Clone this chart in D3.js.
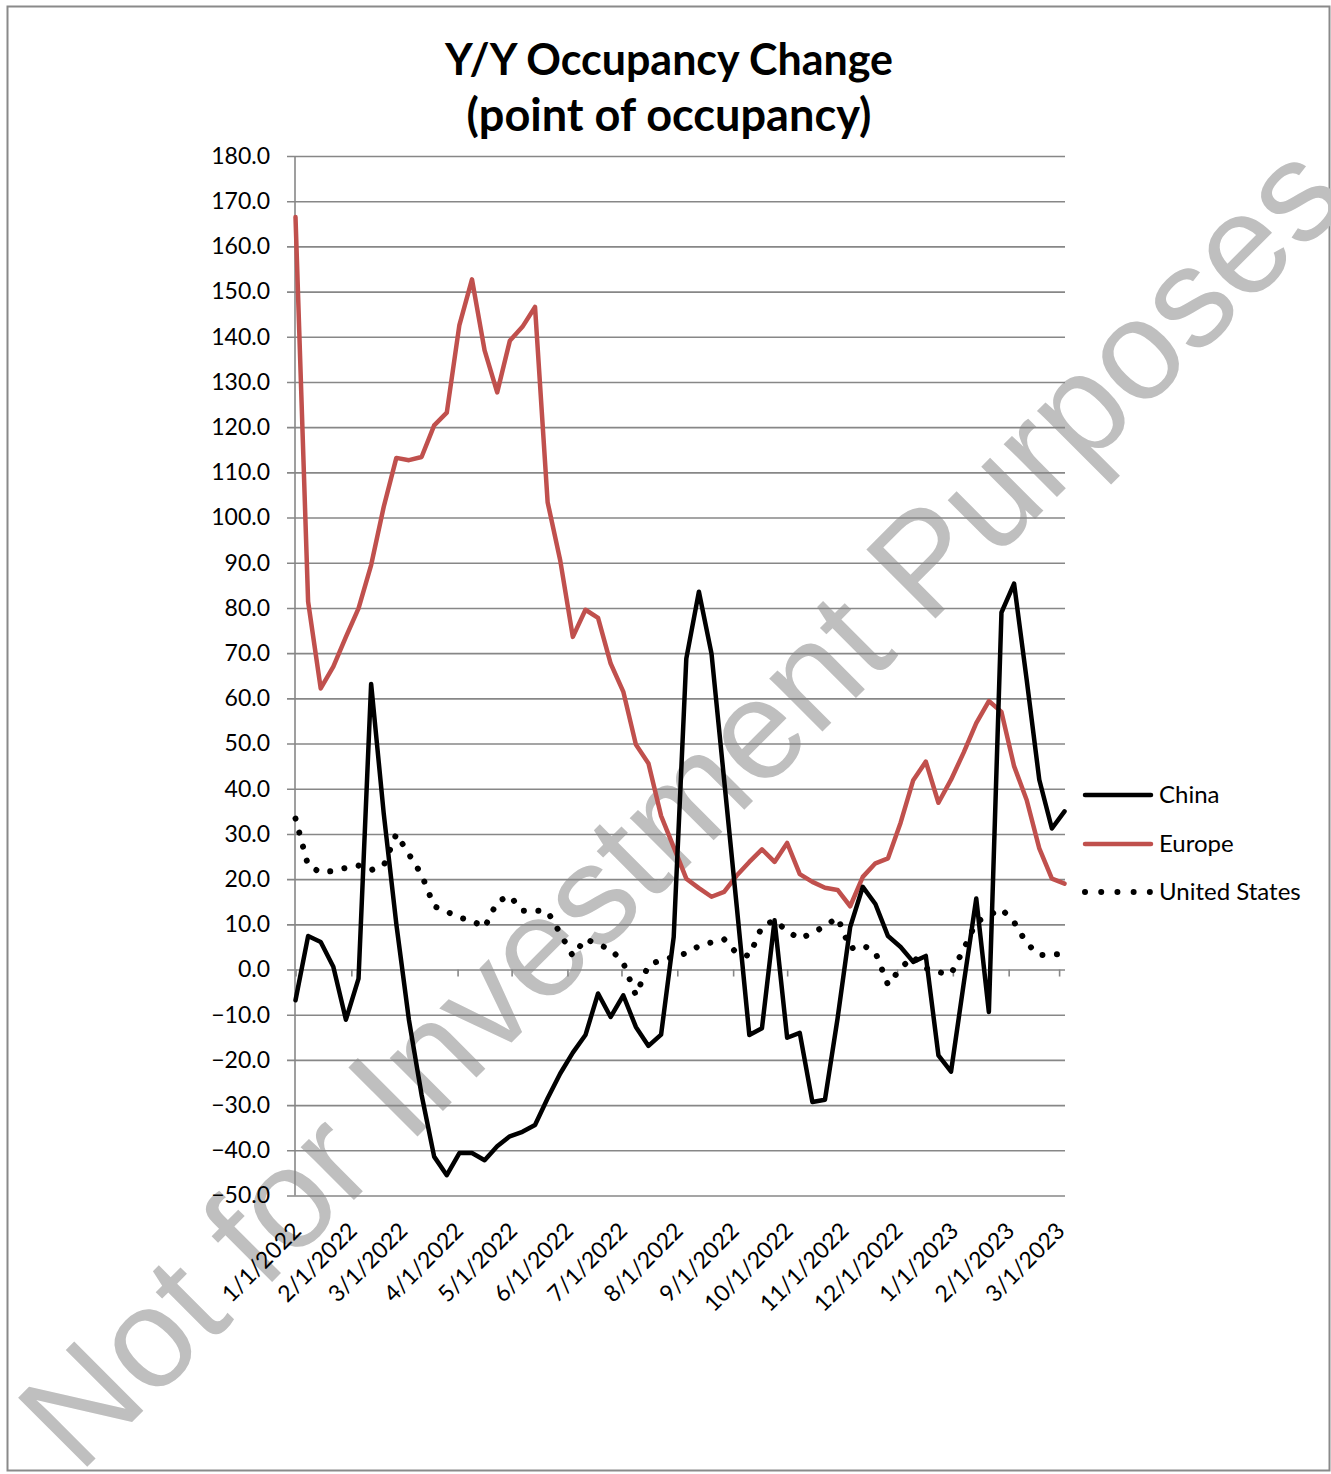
<!DOCTYPE html>
<html>
<head>
<meta charset="utf-8">
<script src="https://cdn.jsdelivr.net/npm/d3@7"></script>
<style>
  html, body { margin: 0; padding: 0; background: #fff; }
  svg { display: block; }
</style>
</head>
<body>
<div id="chart"></div>
<script>
// ---------------- DATA ----------------
const weekDates = [
  "2022-01-01","2022-01-08","2022-01-15","2022-01-22","2022-01-29",
  "2022-02-05","2022-02-12","2022-02-19","2022-02-26",
  "2022-03-05","2022-03-12","2022-03-19","2022-03-26",
  "2022-04-02","2022-04-09","2022-04-16","2022-04-23","2022-04-30",
  "2022-05-07","2022-05-14","2022-05-21","2022-05-28",
  "2022-06-04","2022-06-11","2022-06-18","2022-06-25",
  "2022-07-02","2022-07-09","2022-07-16","2022-07-23","2022-07-30",
  "2022-08-06","2022-08-13","2022-08-20","2022-08-27",
  "2022-09-03","2022-09-10","2022-09-17","2022-09-24",
  "2022-10-01","2022-10-08","2022-10-15","2022-10-22","2022-10-29",
  "2022-11-05","2022-11-12","2022-11-19","2022-11-26",
  "2022-12-03","2022-12-10","2022-12-17","2022-12-24","2022-12-31",
  "2023-01-07","2023-01-14","2023-01-21","2023-01-28",
  "2023-02-04","2023-02-11","2023-02-18","2023-02-25",
  "2023-03-04"
];

const china = [
  -6.8, 7.4, 6.1, 0.6, -11.1, -2.0, 63.2, 34.5, 10.0, -11.2,
  -27.7, -41.4, -45.5, -40.6, -40.6, -42.2, -39.1, -36.9, -35.9, -34.4,
  -28.5, -23.0, -18.4, -14.5, -5.3, -10.5, -5.7, -12.7, -16.9, -14.4,
  7.2, 68.8, 83.6, 69.9, 42.0, 14.0, -14.5, -13.0, 10.9, -15.1,
  -14.0, -29.3, -28.8, -10.8, 9.4, 18.3, 14.5, 7.4, 5.0, 1.7,
  3.0, -19.0, -22.6, -3.2, 15.7, -9.4, 79.0, 85.4, 64.1, 42.0,
  31.2, 35.0
];

const europe = [
  166.5, 81.4, 62.2, 67.0, 73.6, 79.9, 89.5, 102.4, 113.2, 112.7,
  113.4, 120.4, 123.2, 142.6, 152.7, 137.0, 127.7, 139.1, 142.2, 146.6,
  103.4, 90.5, 73.6, 79.6, 77.8, 67.7, 61.5, 49.8, 45.6, 34.0,
  27.1, 20.1, 18.0, 16.1, 17.2, 20.8, 23.8, 26.6, 23.8, 28.0,
  21.1, 19.4, 18.1, 17.6, 14.0, 20.5, 23.5, 24.6, 32.5, 41.9,
  46.0, 36.9, 42.0, 48.0, 54.5, 59.4, 57.0, 45.0, 37.5, 26.8,
  20.1, 19.0
];

const unitedStates = [
  33.4, 23.0, 21.5, 21.8, 22.5, 23.0, 22.0, 23.0, 30.0, 25.5,
  21.0, 14.0, 12.8, 11.5, 10.8, 9.3, 15.0, 16.3, 13.0, 13.1,
  12.8, 8.0, 3.0, 6.8, 5.5, 4.5, 1.5, -5.7, 1.0, 2.1,
  2.8, 3.6, 5.2, 6.0, 6.7, 3.6, 3.0, 9.5, 10.9, 8.5,
  6.8, 8.1, 9.6, 11.5, 4.6, 5.4, 3.8, -3.4, 0.3, 2.8,
  0.3, -0.6, -1.0, 4.5, 10.5, 12.0, 13.4, 10.5, 5.8, 3.2,
  3.3, 3.5
];

const xTickLabels = [
  "1/1/2022","2/1/2022","3/1/2022","4/1/2022","5/1/2022","6/1/2022",
  "7/1/2022","8/1/2022","9/1/2022","10/1/2022","11/1/2022","12/1/2022",
  "1/1/2023","2/1/2023","3/1/2023"
];

const yTicks = [-50,-40,-30,-20,-10,0,10,20,30,40,50,60,70,80,90,100,110,120,130,140,150,160,170,180];

const seriesNames = ["China", "Europe", "United States"];
const titleLines = ["Y/Y Occupancy Change", "(point of occupancy)"];
const watermarkText = "Not for Investment Purposes";

// ---------------- CHART ----------------
const W = 1331, H = 1474;
const FONT = "Lato, 'Open Sans', 'DejaVu Sans', sans-serif";

const parse = d3.utcParse("%Y-%m-%d");
const parseTick = d3.utcParse("%m/%d/%Y");
const dates = weekDates.map(parse);
const tickDates = xTickLabels.map(parseTick);

const plotL = 295, plotR = 1065, plotT = 156, plotB = 1195.5;

const x = d3.scaleUtc()
  .domain([dates[0], dates[dates.length - 1]])
  .range([295.5, 1064.5]);
const y = d3.scaleLinear()
  .domain([-50, 180])
  .range([plotB, plotT]);

const svg = d3.select("#chart").append("svg")
  .attr("width", W).attr("height", H)
  .attr("viewBox", `0 0 ${W} ${H}`);

svg.append("rect").attr("x", 0).attr("y", 0).attr("width", W).attr("height", H).attr("fill", "#fff");

// outer border
svg.append("rect")
  .attr("x", 7.5).attr("y", 6.5)
  .attr("width", 1322).attr("height", 1464)
  .attr("fill", "none").attr("stroke", "#8a8a8a").attr("stroke-width", 2);

// watermark
svg.append("text")
  .attr("transform", "translate(79,1475) rotate(-45)")
  .attr("font-family", "'Liberation Sans', Arial, sans-serif")
  .attr("font-size", 142)
  .attr("fill", "#bfbfbf")
  .text(watermarkText);

// Y axis with gridlines
const yAxis = d3.axisLeft(y)
  .tickValues(yTicks)
  .tickFormat(d3.format(".1f"))
  .tickSizeInner(plotR - 287)
  .tickSizeOuter(0)
  .tickPadding(17);

const gy = svg.append("g")
  .attr("transform", `translate(${plotR},0)`)
  .call(yAxis);
gy.select(".domain").remove();
gy.selectAll(".tick line")
  .attr("stroke", "#878787").attr("stroke-width", 1.6);
gy.selectAll(".tick text")
  .attr("font-family", FONT).attr("font-size", 23).attr("fill", "#000");

// vertical axis line
svg.append("line")
  .attr("x1", plotL).attr("x2", plotL)
  .attr("y1", plotT).attr("y2", plotB)
  .attr("stroke", "#878787").attr("stroke-width", 1.6);

// X axis tick marks on the zero line
const xAxisTicks = d3.axisBottom(x)
  .tickValues(tickDates)
  .tickFormat("")
  .tickSizeInner(7)
  .tickSizeOuter(0);
const gxt = svg.append("g")
  .attr("transform", `translate(0,${y(0)})`)
  .call(xAxisTicks);
gxt.select(".domain").remove();
gxt.selectAll(".tick line").attr("stroke", "#878787").attr("stroke-width", 1.6);

// X axis labels below the plot
const xAxisLabels = d3.axisBottom(x)
  .tickValues(tickDates)
  .tickFormat((d, i) => xTickLabels[i])
  .tickSize(0);
const gxl = svg.append("g")
  .attr("transform", `translate(0,${plotB})`)
  .call(xAxisLabels);
gxl.select(".domain").remove();
gxl.selectAll(".tick text")
  .attr("font-family", FONT).attr("font-size", 23).attr("fill", "#000")
  .attr("x", 0).attr("y", 0).attr("dy", "0.35em")
  .attr("text-anchor", "end")
  .attr("transform", "translate(1,31) rotate(-45)");

// Lines
const line = d3.line()
  .x((d, i) => x(dates[i]))
  .y(d => y(d));

svg.append("path").datum(europe)
  .attr("d", line)
  .attr("fill", "none").attr("stroke", "#c0504d")
  .attr("stroke-width", 4.5).attr("stroke-linejoin", "round").attr("stroke-linecap", "round");

svg.append("path").datum(unitedStates)
  .attr("d", line)
  .attr("fill", "none").attr("stroke", "#000")
  .attr("stroke-width", 6).attr("stroke-linecap", "round")
  .attr("stroke-dasharray", "0.01 14.5");

svg.append("path").datum(china)
  .attr("d", line)
  .attr("fill", "none").attr("stroke", "#000")
  .attr("stroke-width", 4.5).attr("stroke-linejoin", "round").attr("stroke-linecap", "round");

// Legend
const legendY = [795, 844, 892];
const legendStyles = [
  { stroke: "#000", width: 4.5, dash: null },
  { stroke: "#c0504d", width: 4.5, dash: null },
  { stroke: "#000", width: 6, dash: "0.01 16.2" }
];
const lg = svg.append("g");
seriesNames.forEach((name, i) => {
  const s = legendStyles[i];
  const ln = lg.append("line")
    .attr("x1", 1085).attr("x2", 1151)
    .attr("y1", legendY[i]).attr("y2", legendY[i])
    .attr("stroke", s.stroke).attr("stroke-width", s.width)
    .attr("stroke-linecap", "round");
  if (s.dash) ln.attr("stroke-dasharray", s.dash);
  lg.append("text")
    .attr("x", 1159).attr("y", legendY[i])
    .attr("dy", "0.35em")
    .attr("font-family", FONT).attr("font-size", 24).attr("fill", "#000")
    .text(name);
});

// Title
const titleG = svg.append("g");
const titleWidths = [448, 405];
const titleBaselines = [75, 131];
titleLines.forEach((txt, i) => {
  const t = titleG.append("text")
    .attr("x", 669).attr("y", titleBaselines[i])
    .attr("text-anchor", "middle")
    .attr("font-family", FONT).attr("font-weight", "bold")
    .attr("font-size", 40).attr("fill", "#000")
    .text(txt);
  const w = t.node().getComputedTextLength();
  t.attr("font-size", 40 * titleWidths[i] / w);
});
</script>
</body>
</html>
